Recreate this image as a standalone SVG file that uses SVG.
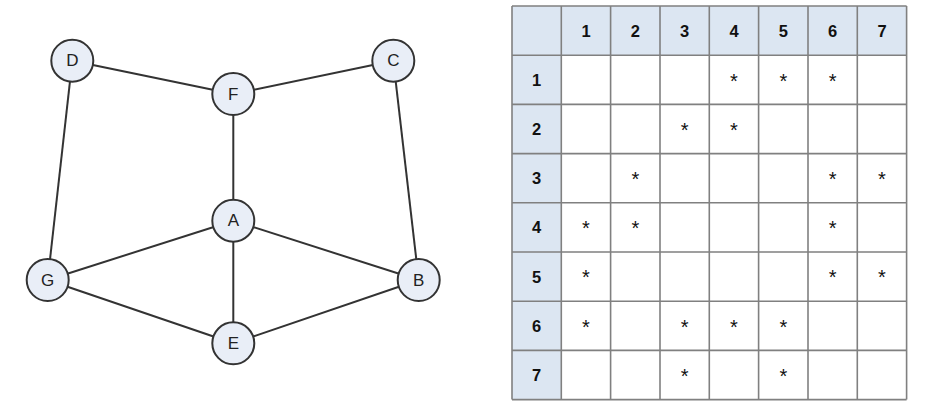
<svg xmlns="http://www.w3.org/2000/svg" width="938" height="406" viewBox="0 0 938 406">
<style>
.edge{stroke:#333;stroke-width:2;fill:none}
.node circle{fill:#e9eef7;stroke:#333;stroke-width:2}
.node text{font-family:"Liberation Sans",Arial,sans-serif;font-size:17px;fill:#222;text-anchor:middle}
.hd{fill:#dce6f2}
.cell{fill:#fff}
.grid{stroke:#808080;stroke-width:1.6;fill:none}
.h{font-family:"Liberation Sans",Arial,sans-serif;font-size:16.5px;font-weight:bold;fill:#111;text-anchor:middle}
.s{font-family:"Liberation Sans",Arial,sans-serif;font-size:20px;fill:#111;text-anchor:middle}
</style>
<rect width="938" height="406" fill="#fff"/>
<g id="connectors">
<line class="edge" x1="72.3" y1="60.7" x2="233.3" y2="94"/>
<line class="edge" x1="393.3" y1="60.7" x2="233.3" y2="94"/>
<line class="edge" x1="72.3" y1="60.7" x2="47.7" y2="280"/>
<line class="edge" x1="393.3" y1="60.7" x2="418.7" y2="280"/>
<line class="edge" x1="233.3" y1="94" x2="233.3" y2="220.7"/>
<line class="edge" x1="233.3" y1="220.7" x2="47.7" y2="280"/>
<line class="edge" x1="233.3" y1="220.7" x2="418.7" y2="280"/>
<line class="edge" x1="233.3" y1="220.7" x2="233.3" y2="343.3"/>
<line class="edge" x1="47.7" y1="280" x2="233.3" y2="343.3"/>
<line class="edge" x1="418.7" y1="280" x2="233.3" y2="343.3"/>
</g>
<g id="node-D" class="node"><circle cx="72.3" cy="60.7" r="21"/><text x="72.3" y="66.4">D</text></g>
<g id="node-C" class="node"><circle cx="393.3" cy="60.7" r="21"/><text x="393.3" y="66.4">C</text></g>
<g id="node-F" class="node"><circle cx="233.3" cy="94" r="21"/><text x="233.3" y="99.7">F</text></g>
<g id="node-A" class="node"><circle cx="233.3" cy="220.7" r="21"/><text x="233.3" y="226.4">A</text></g>
<g id="node-G" class="node"><circle cx="47.7" cy="280" r="21"/><text x="47.7" y="285.7">G</text></g>
<g id="node-B" class="node"><circle cx="418.7" cy="280" r="21"/><text x="418.7" y="285.7">B</text></g>
<g id="node-E" class="node"><circle cx="233.3" cy="343.3" r="21"/><text x="233.3" y="349">E</text></g>
<g id="matrix">
<rect class="cell" x="512" y="6" width="394.6" height="393.6"/>
<rect class="hd" x="512" y="6" width="394.6" height="49.2"/>
<rect class="hd" x="512" y="6" width="49.3" height="393.6"/>
<g class="grid">
<path d="M512 6V399.6M561.3 6V399.6M610.6 6V399.6M660 6V399.6M709.3 6V399.6M758.6 6V399.6M808 6V399.6M857.3 6V399.6M906.6 6V399.6"/>
<path d="M512 6H906.6M512 55.2H906.6M512 104.4H906.6M512 153.6H906.6M512 202.8H906.6M512 252H906.6M512 301.2H906.6M512 350.4H906.6M512 399.6H906.6"/>
</g>
<g class="h">
<text x="586" y="36.5">1</text><text x="635.3" y="36.5">2</text><text x="684.6" y="36.5">3</text><text x="734" y="36.5">4</text><text x="783.3" y="36.5">5</text><text x="832.6" y="36.5">6</text><text x="882" y="36.5">7</text>
<text x="536.7" y="85.7">1</text><text x="536.7" y="134.9">2</text><text x="536.7" y="184.1">3</text><text x="536.7" y="233.3">4</text><text x="536.7" y="282.5">5</text><text x="536.7" y="331.7">6</text><text x="536.7" y="380.9">7</text>
</g>
<g class="s">
<text x="734" y="87.5">*</text><text x="783.3" y="87.5">*</text><text x="832.6" y="87.5">*</text>
<text x="684.6" y="136.7">*</text><text x="734" y="136.7">*</text>
<text x="635.3" y="185.9">*</text><text x="832.6" y="185.9">*</text><text x="882" y="185.9">*</text>
<text x="586" y="235.1">*</text><text x="635.3" y="235.1">*</text><text x="832.6" y="235.1">*</text>
<text x="586" y="284.3">*</text><text x="832.6" y="284.3">*</text><text x="882" y="284.3">*</text>
<text x="586" y="333.5">*</text><text x="684.6" y="333.5">*</text><text x="734" y="333.5">*</text><text x="783.3" y="333.5">*</text>
<text x="684.6" y="382.7">*</text><text x="783.3" y="382.7">*</text>
</g>
</g>
</svg>
